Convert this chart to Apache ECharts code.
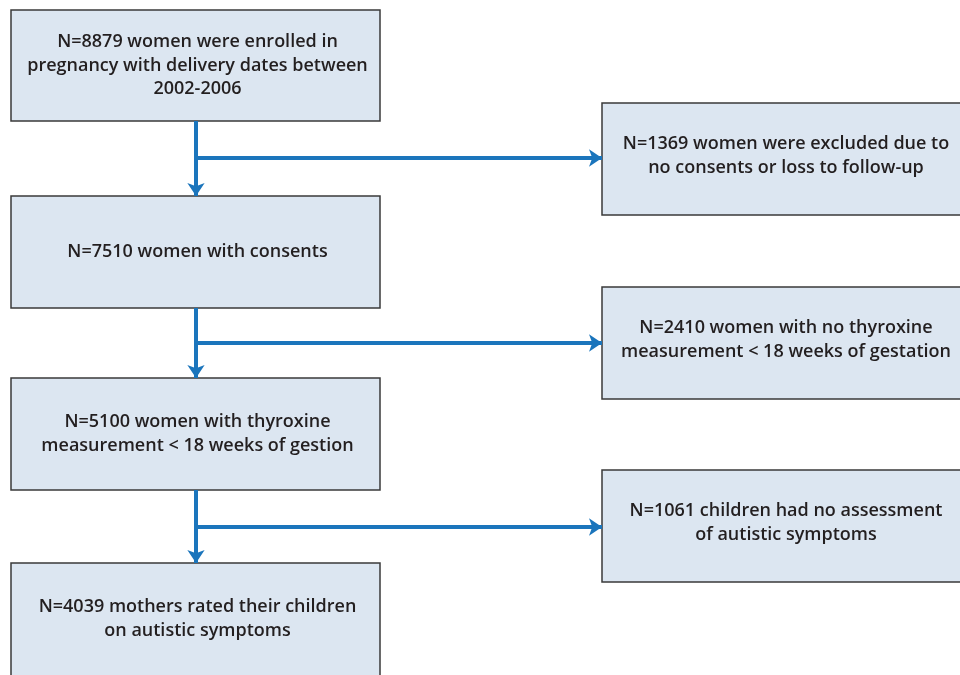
<!DOCTYPE html>
<html>
<head>
<meta charset="utf-8">
<script src="https://cdn.jsdelivr.net/npm/echarts@6/dist/echarts.min.js"></script>
<style>html,body{margin:0;padding:0;background:#fff}#c{width:960px;height:675px}</style>
</head>
<body>
<div id="c"></div>
<script>
// Flow stage texts (main column)
const mainSteps = [
  'N=8879 women were enrolled in\npregnancy with delivery dates between\n2002-2006',
  'N=7510 women with consents',
  'N=5100 women with thyroxine\nmeasurement < 18 weeks of gestion',
  'N=4039 mothers rated their children\non autistic symptoms'
];
// Exclusion texts (side column)
const exclusions = [
  'N=1369 women were excluded due to\nno consents or loss to follow-up',
  'N=2410 women with no thyroxine\nmeasurement < 18 weeks of gestation',
  'N=1061 children had no assessment\nof autistic symptoms'
];

// Layout (canvas units)
const mainX = [11, 380];
const mainY = [[10, 121], [196, 308], [378, 490], [563, 690]];
const sideX = [602, 970];
const sideY = [[103, 215], [287, 399], [470, 582]];
const stemX = 196;
const branchY = [158, 343, 527];

const boxData = [];
mainSteps.forEach((t, i) => boxData.push([mainX[0], mainY[i][0], mainX[1], mainY[i][1], t, 0]));
exclusions.forEach((t, i) => boxData.push([sideX[0], sideY[i][0], sideX[1], sideY[i][1], t, 1]));

const arrowData = [];
for (let i = 0; i < 3; i++) {
  arrowData.push({coords: [[stemX, mainY[i][1]], [stemX, mainY[i + 1][0]]]});
  arrowData.push({coords: [[stemX, branchY[i]], [sideX[0], branchY[i]]]});
}

const chart = echarts.init(document.getElementById('c'), null, {renderer: 'canvas'});
chart.setOption({
  animation: false,
  grid: {left: 0, right: 0, top: 0, bottom: 0},
  xAxis: {type: 'value', min: 0, max: 960, show: false},
  yAxis: {type: 'value', min: 0, max: 675, inverse: true, show: false},
  series: [
    {
      type: 'custom',
      coordinateSystem: 'cartesian2d',
      clip: false,
      data: boxData,
      encode: {x: [0, 2], y: [1, 3]},
      renderItem: function (params, api) {
        const p0 = api.coord([api.value(0), api.value(1)]);
        const p1 = api.coord([api.value(2), api.value(3)]);
        const txt = boxData[params.dataIndex][4];
        const side = boxData[params.dataIndex][5];
        const cx = side ? (p0[0] + 958) / 2 + 6 : (p0[0] + p1[0]) / 2 + 2;
        const cy = (p0[1] + Math.min(p1[1], side ? 9999 : 675)) / 2 - (side ? 3 : 0);
        return {
          type: 'group',
          children: [
            {
              type: 'rect',
              shape: {x: p0[0], y: p0[1], width: p1[0] - p0[0], height: p1[1] - p0[1]},
              style: {fill: '#dce6f1', stroke: '#3a3a3a', lineWidth: 1.5}
            },
            {
              type: 'text',
              style: {
                text: txt, x: cx, y: cy,
                align: 'center', verticalAlign: 'middle',
                font: '600 18px "Open Sans", sans-serif',
                lineHeight: 23.5,
                fill: '#231f20'
              }
            }
          ]
        };
      }
    },
    {
      type: 'lines',
      coordinateSystem: 'cartesian2d',
      data: arrowData,
      symbol: ['none', 'arrow'],
      symbolSize: [11, 13],
      lineStyle: {color: '#1b75bc', width: 4, opacity: 1},
      z: 5
    }
  ]
});
</script>
</body>
</html>
